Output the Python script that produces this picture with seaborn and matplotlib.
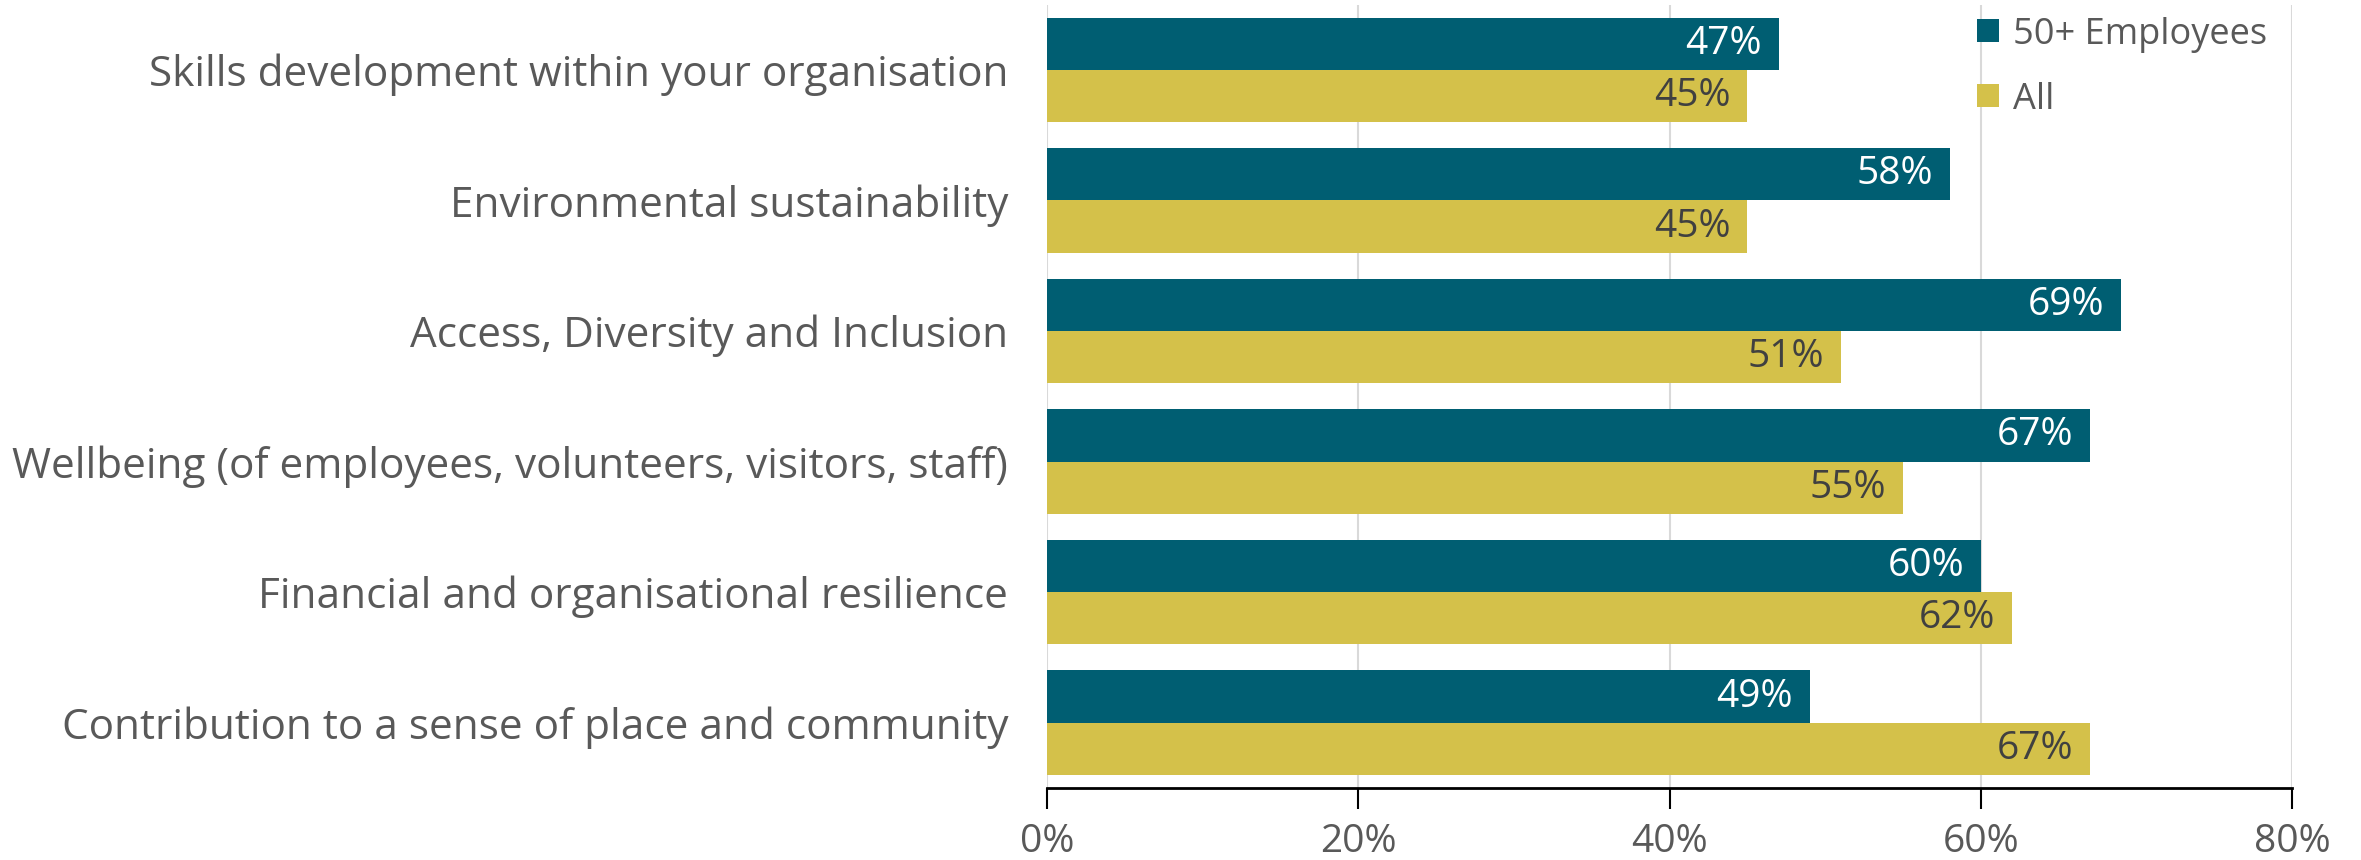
import matplotlib
matplotlib.use("Agg")
import matplotlib.pyplot as plt
import seaborn as sns
import pandas as pd
from matplotlib.ticker import PercentFormatter

categories = [
    "Skills development within your organisation",
    "Environmental sustainability",
    "Access, Diversity and Inclusion",
    "Wellbeing (of employees, volunteers, visitors, staff)",
    "Financial and organisational resilience",
    "Contribution to a sense of place and community",
]
series_names = ["50+ Employees", "All"]
employees_50_plus = [47, 58, 69, 67, 60, 49]
all_orgs = [45, 45, 51, 55, 62, 67]
x_ticks = [0, 20, 40, 60, 80]

colors = {"50+ Employees": "#005E72", "All": "#D4C14A"}
label_colors = {"50+ Employees": "white", "All": "#404040"}
text_grey = "#595959"

df = pd.DataFrame({
    "category": categories * 2,
    "series": [series_names[0]] * len(categories) + [series_names[1]] * len(categories),
    "value": employees_50_plus + all_orgs,
})

sns.set_theme(style="white")
plt.rcParams["font.family"] = ["Open Sans", "DejaVu Sans"]

fig = plt.figure(figsize=(23.61, 8.6), dpi=100)
ax = fig.add_axes([0.4435, 0.0837, 0.5273, 0.911])

sns.barplot(data=df, y="category", x="value", hue="series", order=categories,
            hue_order=series_names, palette=colors, orient="h", width=0.8,
            saturation=1, linewidth=0, ax=ax, zorder=3)

ax.set_xlim(0, 80)
ax.set_xticks(x_ticks)
ax.xaxis.set_major_formatter(PercentFormatter(decimals=0))
ax.set_xlabel("")
ax.set_ylabel("")
ax.grid(axis="x", color="#D9D9D9", linewidth=1.5, zorder=0)
ax.grid(axis="y", visible=False)
for side in ["top", "right", "left"]:
    ax.spines[side].set_visible(False)
ax.spines["bottom"].set_color("black")
ax.spines["bottom"].set_linewidth(2)
ax.tick_params(axis="x", bottom=True, direction="out", length=15, width=1.5,
               color="black", labelsize=28, labelcolor=text_grey, pad=10)
ax.tick_params(axis="y", left=False, labelsize=30.4, labelcolor=text_grey, pad=22)

for container, name in zip(ax.containers, series_names):
    texts = ax.bar_label(container,
                         labels=[f"{v:.0f}%" for v in container.datavalues],
                         padding=-12, label_type="edge",
                         color=label_colors[name], fontsize=28)
    for t in texts:
        t.set_ha("right")

leg = ax.legend(loc="upper left", bbox_to_anchor=(0.721, 1.026), frameon=False,
                fontsize=26, handlelength=0.6, handleheight=0.6,
                handletextpad=0.4, labelspacing=0.8)
for t in leg.get_texts():
    t.set_color(text_grey)

fig.savefig("out.png", dpi=100)
